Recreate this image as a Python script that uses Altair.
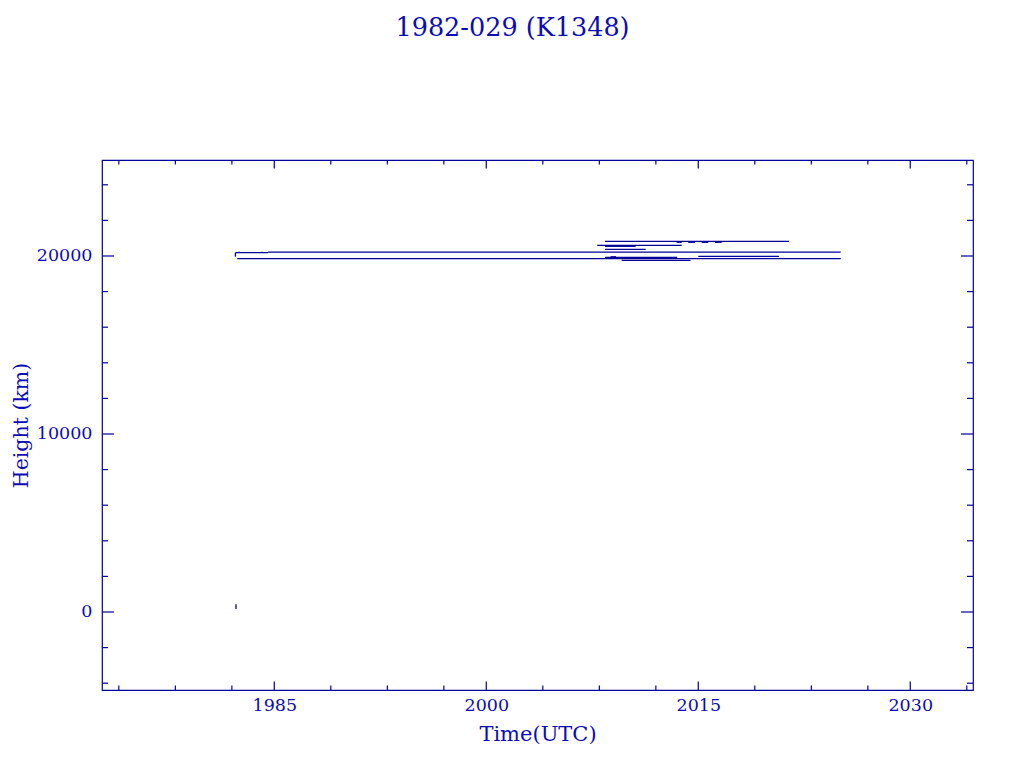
import altair as alt
import pandas as pd

# ---- data ----
seg_t0 = [1984.55, 1982.25, 1982.25, 1982.38, 1982.29, 1984.13, 1982.52,
          2008.40, 2013.47, 2014.29, 2015.24, 2016.18,
          2007.85, 2008.40, 2008.40, 2008.40, 2008.80, 2015.00, 2009.58]
seg_t1 = [2025.08, 1984.55, 1982.25, 2025.08, 1982.29, 1984.13, 1982.52,
          2021.42, 2013.83, 2014.76, 2015.71, 2016.66,
          2013.83, 2010.57, 2011.28, 2013.51, 2009.18, 2020.71, 2014.45]
seg_h0 = [20219, 20185, 19960, 19854, 170, 20185, 20185,
          20826, 20770, 20770, 20770, 20770,
          20601, 20545, 20376, 19927, 19955, 19983, 19758]
seg_h1 = [20219, 20185, 20185, 19854, 430, 20240, 20240,
          20826, 20770, 20770, 20770, 20770,
          20601, 20545, 20376, 19927, 19955, 19983, 19758]

x_major = [1985, 2000, 2015, 2030]
x_minor = [1974, 1978, 1982, 1989, 1993, 1997, 2004, 2008, 2012,
           2019, 2023, 2027, 2034]
y_major = [0, 10000, 20000]
y_minor = [-4000, -2000, 2000, 4000, 6000, 8000, 12000, 14000, 16000,
           18000, 22000, 24000]

W, H = 871, 530
LINE = "#00009a"
TEXT = "#0c0cb4"
FONT = "DejaVu Serif"

xdom = [1972.81, 2034.44]
ydom = [-4382, 25393]
xs = alt.Scale(domain=xdom, nice=False, zero=False)
ys = alt.Scale(domain=ydom, nice=False, zero=False)

x_axis = alt.Axis(values=x_major, format="d", ticks=False, tickSize=0,
                  grid=False, domain=False, title="Time(UTC)",
                  labelFont=FONT, labelFontSize=17.5, labelColor=TEXT,
                  labelBaseline="alphabetic", labelPadding=20,
                  titleFont=FONT, titleFontSize=21, titleColor=TEXT,
                  titleFontWeight="normal", titleBaseline="alphabetic",
                  titleY=50)
y_axis = alt.Axis(values=y_major, format="d", ticks=False, tickSize=0,
                  grid=False, domain=False, title="Height (km)",
                  labelFont=FONT, labelFontSize=17.5, labelColor=TEXT,
                  labelPadding=10,
                  titleFont=FONT, titleFontSize=20.5, titleColor=TEXT,
                  titleFontWeight="normal", titleBaseline="alphabetic",
                  titleX=-75, titleY=H / 2)

segs = pd.DataFrame({"t0": seg_t0, "t1": seg_t1, "h0": seg_h0, "h1": seg_h1})

base = alt.Chart(segs).mark_rule(color=LINE, strokeWidth=1.3).encode(
    x=alt.X("t0:Q", scale=xs, axis=x_axis),
    x2="t1:Q",
    y=alt.Y("h0:Q", scale=ys, axis=y_axis),
    y2="h1:Q",
)

xmaj = pd.DataFrame({"t0": x_major})
xmin = pd.DataFrame({"t0": x_minor})
ymaj = pd.DataFrame({"h0": y_major})
ymin = pd.DataFrame({"h0": y_minor})


def xticks(df, length):
    bot = alt.Chart(df).mark_rule(color=LINE, strokeWidth=1.2).encode(
        x=alt.X("t0:Q", scale=xs, axis=x_axis),
        y=alt.value(H), y2=alt.value(H - length))
    top = alt.Chart(df).mark_rule(color=LINE, strokeWidth=1.2).encode(
        x=alt.X("t0:Q", scale=xs, axis=x_axis),
        y=alt.value(0), y2=alt.value(length))
    return [bot, top]


def yticks(df, length):
    left = alt.Chart(df).mark_rule(color=LINE, strokeWidth=1.2).encode(
        y=alt.Y("h0:Q", scale=ys, axis=y_axis),
        x=alt.value(0), x2=alt.value(length))
    right = alt.Chart(df).mark_rule(color=LINE, strokeWidth=1.2).encode(
        y=alt.Y("h0:Q", scale=ys, axis=y_axis),
        x=alt.value(W), x2=alt.value(W - length))
    return [left, right]


layers = [base] + xticks(xmaj, 8.5) + xticks(xmin, 4.5) + yticks(ymaj, 12) + yticks(ymin, 6)

chart = alt.layer(*layers).properties(
    width=W, height=H,
    autosize=alt.AutoSizeParams(type="none"),
    padding={"left": 94, "top": 152, "right": 40, "bottom": 60},
    title=alt.TitleParams("1982-029 (K1348)", font=FONT, fontSize=25.5,
                          fontWeight="normal", color=TEXT, anchor="middle",
                          baseline="alphabetic", offset=98, dx=-25),
).configure(background="white").configure_view(stroke=LINE, strokeWidth=1.2)

chart.save("out.html", embed_options={"renderer": "svg", "actions": False})
